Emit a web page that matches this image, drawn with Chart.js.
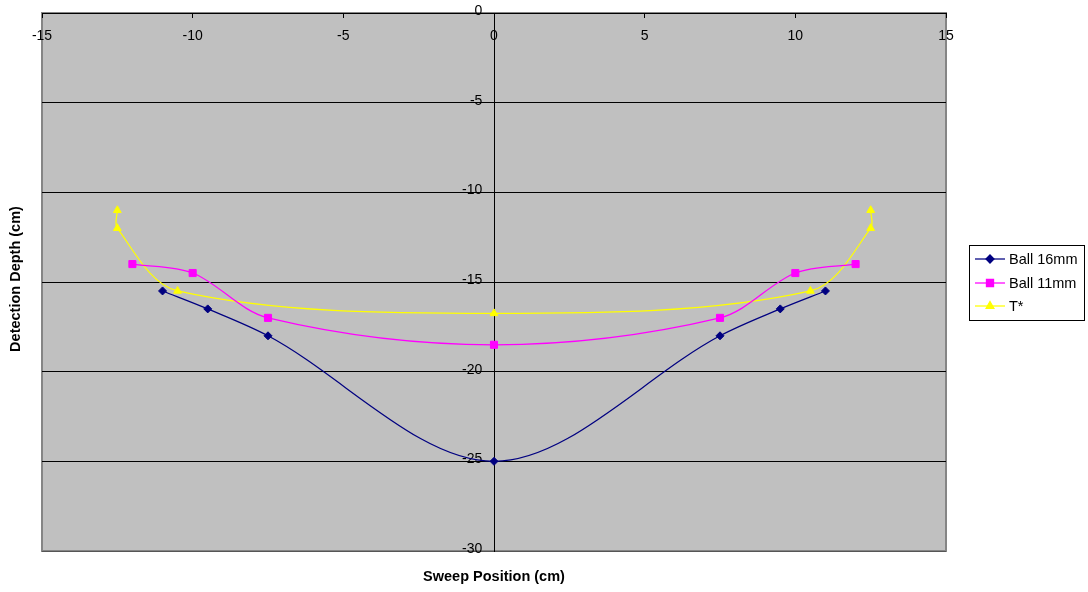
<!DOCTYPE html>
<html>
<head>
<meta charset="utf-8">
<script src="https://cdn.jsdelivr.net/npm/chart.js@4/dist/chart.umd.min.js"></script>
<style>
  body { margin: 0; background: #fff; }
  canvas { display: block; }
</style>
</head>
<body>
<canvas id="chart-area" width="1088" height="592"></canvas>
<script>
// values (cm)
var ball16X = [-11, -9.5, -7.5, 0, 7.5, 9.5, 11];
var ball16Y = [-15.5, -16.5, -18, -25, -18, -16.5, -15.5];
var ball11X = [-12, -10, -7.5, 0, 7.5, 10, 12];
var ball11Y = [-14, -14.5, -17, -18.5, -17, -14.5, -14];
var tStarX = [-12.5, -12.5, -10.5, 0, 10.5, 12.5, 12.5];
var tStarY = [-11, -12, -15.5, -16.75, -15.5, -12, -11];
var seriesNames = ['Ball 16mm', 'Ball 11mm', 'T*'];
var xTitle = 'Sweep Position (cm)';
var yTitle = 'Detection Depth (cm)';

function pts(xs, ys) {
	var out = [];
	for (var i = 0; i < xs.length; i++) out.push({x: xs[i], y: ys[i]});
	return out;
}

var fontFam = 'Arial, "Liberation Sans", sans-serif';

var excelLook = {
	id: 'excelLook',
	beforeDraw: function(chart) {
		var a = chart.chartArea, c = chart.ctx;
		c.save();
		c.fillStyle = '#c0c0c0';
		c.fillRect(a.left, a.top, a.right - a.left, a.bottom - a.top);
		c.strokeStyle = '#858585';
		c.lineWidth = 2;
		c.strokeRect(a.left, a.top, a.right - a.left, a.bottom - a.top);
		c.restore();
	},
	afterDraw: function(chart) {
		var c = chart.ctx;
		c.save();
		// axis titles
		c.fillStyle = '#000';
		c.font = 'bold 14.5px ' + fontFam;
		c.textAlign = 'center';
		c.textBaseline = 'middle';
		c.fillText(xTitle, 494, 577);
		c.translate(16, 279);
		c.rotate(-Math.PI / 2);
		c.fillText(yTitle, 0, 0);
		c.restore();

		// legend box
		c.save();
		c.fillStyle = '#fff';
		c.fillRect(969.5, 245.5, 115, 75);
		c.strokeStyle = '#000';
		c.lineWidth = 1;
		c.strokeRect(969.5, 245.5, 115, 75);
		var rows = [259, 283, 306];
		c.font = '14.5px ' + fontFam;
		c.textAlign = 'left';
		c.textBaseline = 'middle';
		chart.data.datasets.forEach(function(ds, i) {
			var y = rows[i];
			c.strokeStyle = ds.borderColor;
			c.lineWidth = 1.25;
			c.beginPath();
			c.moveTo(975, y);
			c.lineTo(1005, y);
			c.stroke();
			c.fillStyle = ds.pointBackgroundColor;
			c.strokeStyle = ds.pointBorderColor;
			Chart.helpers.drawPoint(c, {pointStyle: ds.pointStyle, radius: ds.pointRadius, borderWidth: 1, rotation: 0}, 990, y);
			c.fillStyle = '#000';
			c.fillText(ds.label, 1009, y + 1);
		});
		c.restore();
	}
};

var config = {
	type: 'scatter',
	data: {
		datasets: [{
			label: seriesNames[0],
			data: pts(ball16X, ball16Y),
			borderColor: '#000080',
			pointBackgroundColor: '#000080',
			pointBorderColor: '#000080',
			pointStyle: 'rectRot',
			pointRadius: 4
		}, {
			label: seriesNames[1],
			data: pts(ball11X, ball11Y),
			borderColor: '#ff00ff',
			pointBackgroundColor: '#ff00ff',
			pointBorderColor: '#ff00ff',
			pointStyle: 'rect',
			pointRadius: 5
		}, {
			label: seriesNames[2],
			data: pts(tStarX, tStarY),
			borderColor: '#ffff00',
			pointBackgroundColor: '#ffff00',
			pointBorderColor: '#ffff00',
			pointStyle: 'triangle',
			pointRadius: 4.5
		}]
	},
	options: {
		responsive: false,
		animation: false,
		showLine: true,
		datasets: {
			scatter: {showLine: true, tension: 0.33, borderWidth: 1.25, pointBorderWidth: 1, fill: false}
		},
		layout: {padding: {left: 42, top: 13, right: 142, bottom: 41}},
		plugins: {legend: {display: false}, tooltip: {enabled: false}},
		scales: {
			x: {
				type: 'linear',
				position: {y: 0},
				min: -15, max: 15,
				ticks: {stepSize: 5, color: '#000', padding: 11, font: {family: fontFam, size: 14}, maxRotation: 0},
				grid: {drawOnChartArea: false, drawTicks: true, tickLength: 4, color: '#000'},
				border: {display: true, color: '#000', width: 1}
			},
			y: {
				type: 'linear',
				position: {x: 0},
				min: -30, max: 0,
				ticks: {
					stepSize: 5, color: '#000', font: {family: fontFam, size: 14}, labelOffset: -2,
					callback: function(v) { return v + '   '; }
				},
				grid: {
					color: function(ctx) { return ctx.tick && ctx.tick.value === -30 ? '#555' : '#000'; },
					lineWidth: 1, drawTicks: true, tickLength: 4
				},
				border: {display: true, color: '#000', width: 1}
			}
		}
	},
	plugins: [excelLook]
};

window.onload = function() {
	var ctx = document.getElementById('chart-area').getContext('2d');
	window.myScatter = new Chart(ctx, config);
};
</script>
</body>
</html>
